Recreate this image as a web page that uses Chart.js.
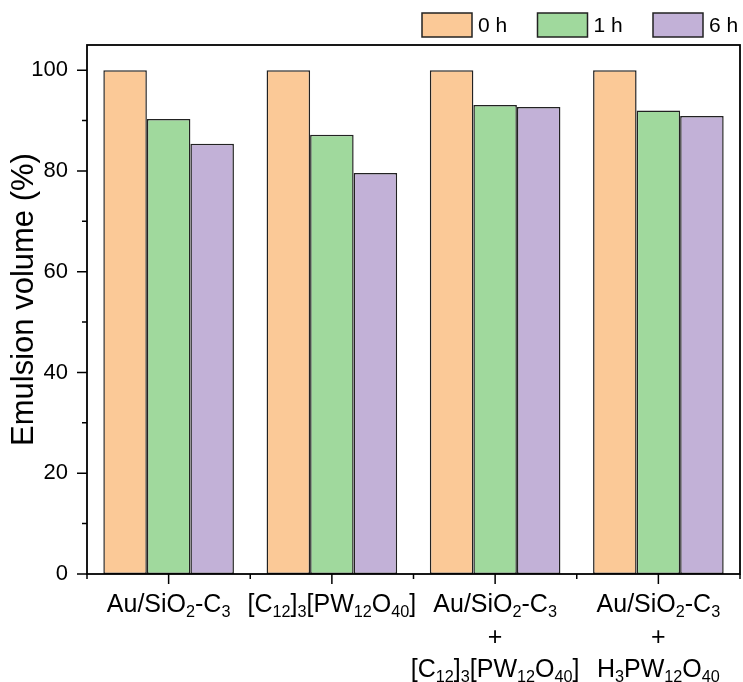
<!DOCTYPE html>
<html>
<head>
<meta charset="utf-8">
<script src="https://cdn.jsdelivr.net/npm/chart.js@4.4.1/dist/chart.umd.min.js"></script>
<style>
  body { margin: 0; background: #fff; }
</style>
</head>
<body>
<canvas id="emulsionChart" width="743" height="682"></canvas>
<script>
// x labels, "_{..}" is a subscript
const categories = [
  ['Au/SiO_{2}-C_{3}'],
  ['[C_{12}]_{3}[PW_{12}O_{40}]'],
  ['Au/SiO_{2}-C_{3}', '+', '[C_{12}]_{3}[PW_{12}O_{40}]'],
  ['Au/SiO_{2}-C_{3}', '+', 'H_{3}PW_{12}O_{40}'],
];
const seriesNames = ['0 h', '1 h', '6 h'];
const volume0h = [100, 100, 100, 100];
const volume1h = [90.3, 87.2, 93.1, 92.0];
const volume6h = [85.4, 79.6, 92.7, 90.9];
const yTicks = [0, 20, 40, 60, 80, 100];
const yMinorStep = 10;
const yTitle = 'Emulsion volume (%)';

const FONT = "'Liberation Sans', Arial, sans-serif";
const colors = ['#FBC997', '#A0D99D', '#C2B1D7'];
const edgeColor = '#222';

const parseRich = (text) => {
  const parts = [];
  const re = /_\{([^}]*)\}|([^_]+)/g;
  let m;
  while ((m = re.exec(text))) {
    if (m[1] !== undefined) parts.push({ text: m[1], sub: true });
    else parts.push({ text: m[2], sub: false });
  }
  return parts;
};

const drawRich = (ctx, text, cx, y, size) => {
  const parts = parseRich(text);
  const subSize = size * 0.65;
  const setFont = (p) => { ctx.font = `${p.sub ? subSize : size}px ${FONT}`; };
  const widths = parts.map((p) => { setFont(p); return ctx.measureText(p.text).width; });
  let x = cx - widths.reduce((a, b) => a + b, 0) / 2;
  ctx.textAlign = 'left';
  ctx.textBaseline = 'alphabetic';
  parts.forEach((p, i) => {
    setFont(p);
    ctx.fillText(p.text, x, p.sub ? y + size * 0.2 : y);
    x += widths[i];
  });
};

const framePlugin = {
  id: 'frameAndTicks',
  afterDraw: (chart) => {
    const { ctx, chartArea: area, scales } = chart;
    const xs = scales.x;
    const ys = scales.y;
    ctx.save();
    ctx.strokeStyle = '#000';
    ctx.fillStyle = '#000';
    ctx.lineWidth = 1.8;
    ctx.strokeRect(area.left, area.top, area.right - area.left, area.bottom - area.top);

    // y ticks, outward
    ctx.lineWidth = 1.5;
    ctx.beginPath();
    for (let v = 0; v <= yTicks[yTicks.length - 1]; v += yMinorStep) {
      const py = ys.getPixelForValue(v);
      const len = yTicks.includes(v) ? 10 : 5;
      ctx.moveTo(area.left - len, py);
      ctx.lineTo(area.left, py);
    }
    // x ticks: major at categories, minor between them
    const centers = categories.map((_, i) => xs.getPixelForTick(i));
    centers.forEach((px) => {
      ctx.moveTo(px, area.bottom);
      ctx.lineTo(px, area.bottom + 10);
    });
    const edges = [area.left];
    for (let i = 1; i < centers.length; i++) edges.push((centers[i - 1] + centers[i]) / 2);
    edges.push(area.right);
    edges.forEach((px) => {
      ctx.moveTo(px, area.bottom);
      ctx.lineTo(px, area.bottom + 5);
    });
    ctx.stroke();

    // category labels with subscripts
    centers.forEach((px, i) => {
      categories[i].forEach((line, j) => {
        drawRich(ctx, line, px, area.bottom + 38 + j * 32.5, 25);
      });
    });

    // y title
    ctx.save();
    ctx.translate(24, (area.top + area.bottom) / 2 - 10);
    ctx.rotate(-Math.PI / 2);
    ctx.font = `31px ${FONT}`;
    ctx.textAlign = 'center';
    ctx.textBaseline = 'middle';
    ctx.fillText(yTitle, 0, 0);
    ctx.restore();

    // legend
    const legendLeft = 422;
    const legendStep = 115.5;
    chart.data.datasets.forEach((ds, i) => {
      const bx = legendLeft + i * legendStep;
      ctx.fillStyle = ds.backgroundColor;
      ctx.fillRect(bx, 13, 50, 24);
      ctx.lineWidth = 1.5;
      ctx.strokeStyle = edgeColor;
      ctx.strokeRect(bx, 13, 50, 24);
      ctx.fillStyle = '#000';
      ctx.font = `21px ${FONT}`;
      ctx.textAlign = 'left';
      ctx.textBaseline = 'middle';
      ctx.fillText(ds.label, bx + 56, 26);
    });
    ctx.restore();
  },
};

const seriesValues = [volume0h, volume1h, volume6h];

new Chart(document.getElementById('emulsionChart'), {
  type: 'bar',
  data: {
    labels: categories,
    datasets: seriesNames.map((name, i) => ({
      label: name,
      data: seriesValues[i],
      backgroundColor: colors[i],
      borderColor: edgeColor,
      borderWidth: 1.5,
      borderSkipped: false,
      categoryPercentage: 0.8,
      barPercentage: 1.0,
    })),
  },
  options: {
    responsive: false,
    animation: false,
    layout: { padding: { top: 45, right: 3, left: 0, bottom: 0 } },
    plugins: {
      legend: { display: false },
      tooltip: { enabled: false },
    },
    scales: {
      x: {
        afterFit: (scale) => { scale.height = 108; },
        grid: { display: false, drawTicks: false },
        border: { display: false },
        ticks: { display: false },
      },
      y: {
        min: 0,
        max: 105,
        afterFit: (scale) => { scale.width = 87; },
        afterBuildTicks: (scale) => { scale.ticks = yTicks.map((v) => ({ value: v })); },
        grid: { display: false, drawTicks: false },
        border: { display: false },
        ticks: { font: { family: FONT, size: 22 }, color: '#000', padding: 19 },
      },
    },
  },
  plugins: [framePlugin],
});
</script>
</body>
</html>
